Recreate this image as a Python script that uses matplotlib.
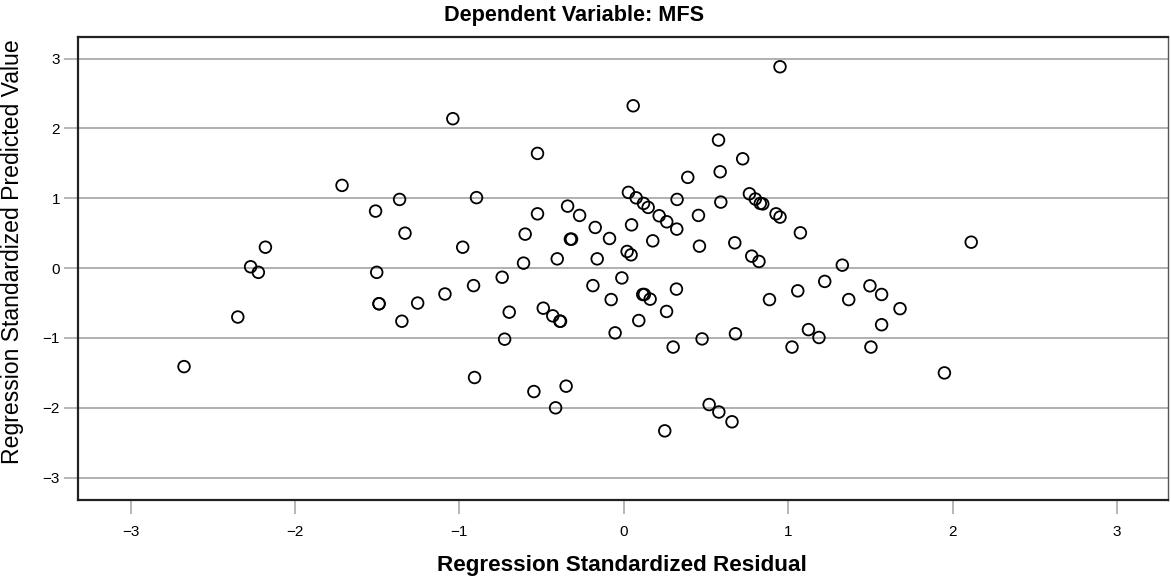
import matplotlib
matplotlib.use('Agg')
import matplotlib.pyplot as plt

plt.rcParams['font.family'] = ['Liberation Sans', 'DejaVu Sans']

# standardized residuals (x) and standardized predicted values (y)
residual = [
    -2.675, -2.348, -2.27, -2.223, -2.18, -1.714, -1.51, -1.503, -1.489, -1.489,
    -1.364, -1.35, -1.331, -1.254, -1.088, -1.04, -0.98, -0.914, -0.896, -0.908,
    -0.74, -0.725, -0.697, -0.61, -0.60, -0.547, -0.525, -0.525, -0.49, -0.432,
    -0.415, -0.405, -0.389, -0.385, -0.351, -0.342, -0.325, -0.318, -0.269, -0.188,
    -0.174, -0.162, -0.087, -0.077, -0.053, -0.012, 0.02, 0.028, 0.044, 0.047,
    0.057, 0.075, 0.091, 0.115, 0.125, 0.12, 0.148, 0.16, 0.176, 0.215,
    0.249, 0.26, 0.261, 0.30, 0.32, 0.322, 0.324, 0.389, 0.454, 0.46,
    0.476, 0.519, 0.576, 0.578, 0.586, 0.590, 0.658, 0.675, 0.679, 0.723,
    0.764, 0.778, 0.80, 0.822, 0.83, 0.845, 0.886, 0.926, 0.950, 0.950,
    1.023, 1.058, 1.074, 1.123, 1.187, 1.222, 1.329, 1.368, 1.497, 1.503,
    1.568, 1.568, 1.68, 1.95, 2.113,
]
predicted = [
    -1.41, -0.70, 0.02, -0.06, 0.30, 1.185, 0.817, -0.06, -0.51, -0.51,
    0.984, -0.76, 0.501, -0.50, -0.37, 2.14, 0.30, -0.25, 1.01, -1.566,
    -0.13, -1.017, -0.63, 0.072, 0.487, -1.767, 1.643, 0.778, -0.573, -0.683,
    -2.0, 0.133, -0.76, -0.76, -1.69, 0.888, 0.415, 0.415, 0.755, -0.25,
    0.583, 0.133, 0.425, -0.45, -0.927, -0.14, 0.239, 1.085, 0.191, 0.62,
    2.325, 1.007, -0.75, -0.377, -0.377, 0.927, 0.87, -0.444, 0.391, 0.75,
    -2.33, -0.62, 0.664, -1.13, -0.30, 0.559, 0.984, 1.30, 0.755, 0.315,
    -1.013, -1.953, 1.834, -2.06, 1.38, 0.946, -2.20, 0.363, -0.94, 1.566,
    1.065, 0.172, 0.99, 0.096, 0.927, 0.92, -0.45, 0.778, 0.731, 2.884,
    -1.13, -0.325, 0.506, -0.88, -0.993, -0.19, 0.043, -0.45, -0.253, -1.13,
    -0.377, -0.81, -0.58, -1.50, 0.372,
]
ticks = [-3, -2, -1, 0, 1, 2, 3]
tick_labels = ['\u22123', '\u22122', '\u22121', '0', '1', '2', '3']

W, H = 1171, 579
fig = plt.figure(figsize=(W / 100, H / 100), dpi=100)
ax = fig.add_axes([78 / W, 79 / H, 1090 / W, 463 / H])

ax.scatter(residual, predicted, s=70, facecolors='none', edgecolors='black',
           linewidths=1.3, zorder=3)

ax.set_xlim(-3.32, 3.31)
ax.set_ylim(-3.32, 3.31)
ax.set_xticks(ticks)
ax.set_xticklabels(tick_labels)
ax.set_yticks(ticks)
ax.set_yticklabels(tick_labels)
ax.tick_params(axis='both', length=10, width=1.2, color='#aaaaaa',
               labelsize=11)
ax.tick_params(axis='x', pad=8)
ax.tick_params(axis='y', pad=3)
ax.yaxis.grid(True, color='#aaaaaa', linewidth=1.3, zorder=0)
ax.set_axisbelow(True)

for side in ['left', 'top', 'bottom']:
    ax.spines[side].set_color('#222222')
    ax.spines[side].set_linewidth(1.6)
ax.spines['right'].set_color('#555555')
ax.spines['right'].set_linewidth(1.0)

fig.text(574 / W, 1 - 15 / H, 'Dependent Variable: MFS', fontsize=15.6,
         fontweight='bold', ha='center', va='center')
fig.text(622 / W, 1 - 566 / H, 'Regression Standardized Residual',
         fontsize=16.2, fontweight='bold', ha='center', va='center')
fig.text(13 / W, 1 - 252 / H, 'Regression Standardized Predicted Value',
         fontsize=16.6, rotation=90, ha='center', va='center')

fig.savefig('out.png', dpi=100)
plt.close(fig)
